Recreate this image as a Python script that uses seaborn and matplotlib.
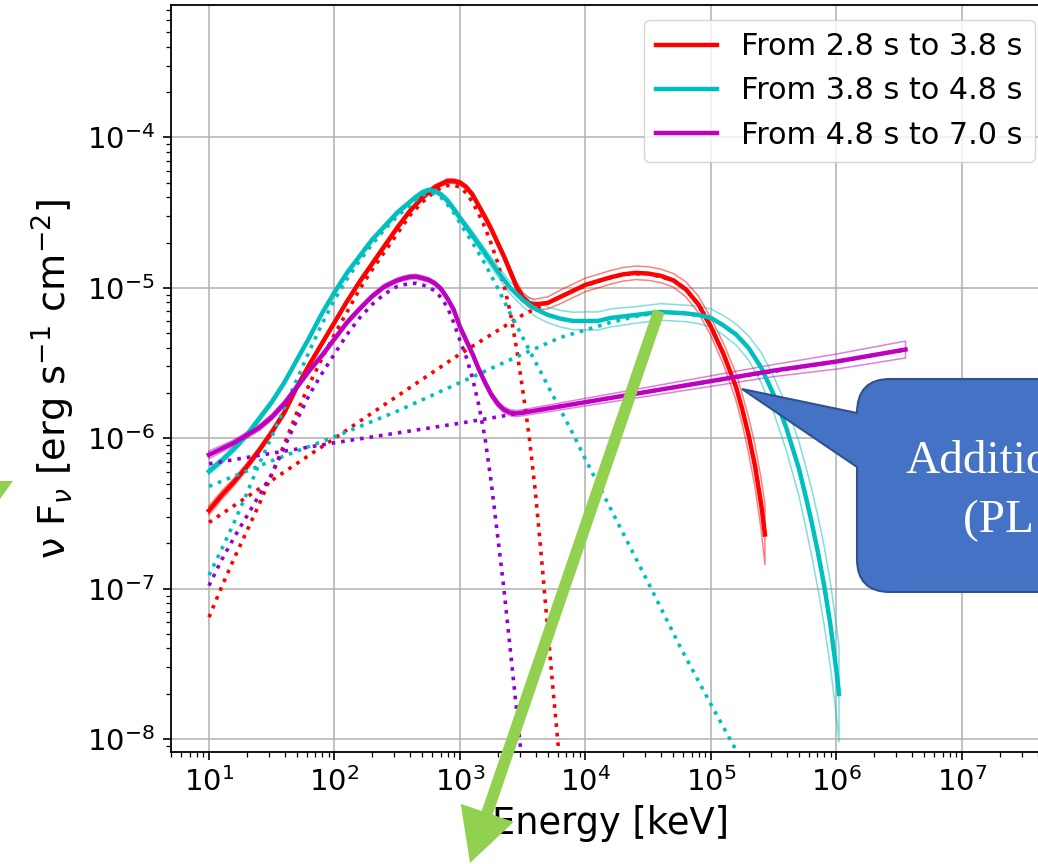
import numpy as np
import seaborn as sns
import matplotlib.pyplot as plt
from matplotlib.path import Path
from matplotlib.patches import PathPatch, Polygon

# values: log10(E / keV) and log10(nuFnu / erg s^-1 cm^-2)
labels = ['From 2.8 s to 3.8 s', 'From 3.8 s to 4.8 s', 'From 4.8 s to 7.0 s']
colors = ['r', 'c', 'm']
dot_colors = ['r', 'c', 'darkviolet']

# first interval: total model, its band half-width (dex) and the two components
red_logE = [1.0, 1.1, 1.2, 1.3, 1.4, 1.5, 1.6, 1.7, 1.8, 1.9, 2.0, 2.1, 2.2, 2.3, 2.4,
            2.5, 2.6, 2.7, 2.8, 2.85, 2.9, 2.95, 3.0, 3.05, 3.1, 3.15, 3.2, 3.25, 3.3,
            3.35, 3.4, 3.45, 3.5, 3.55, 3.6, 3.7, 3.8, 3.9, 4.0, 4.1, 4.2, 4.3, 4.4,
            4.5, 4.6, 4.7, 4.8, 4.9, 5.0, 5.1, 5.2, 5.25, 5.3, 5.35, 5.4, 5.43]
red_logF = [-6.48, -6.38, -6.29, -6.19, -6.08, -5.96, -5.83, -5.66, -5.51, -5.37, -5.23,
            -5.09, -4.96, -4.84, -4.72, -4.60, -4.49, -4.40, -4.33, -4.31, -4.29, -4.29,
            -4.30, -4.33, -4.38, -4.455, -4.53, -4.61, -4.70, -4.79, -4.89, -4.99, -5.06,
            -5.10, -5.11, -5.10, -5.06, -5.02, -4.98, -4.955, -4.93, -4.91, -4.90,
            -4.905, -4.92, -4.95, -5.01, -5.11, -5.26, -5.44, -5.66, -5.81, -5.98,
            -6.18, -6.44, -6.64]
red_err = [0.03, 0.028, 0.025, 0.022, 0.02, 0.02, 0.02, 0.018, 0.015, 0.015, 0.015,
           0.015, 0.015, 0.015, 0.015, 0.015, 0.015, 0.015, 0.015, 0.015, 0.015, 0.015,
           0.015, 0.015, 0.015, 0.015, 0.02, 0.02, 0.02, 0.022, 0.025, 0.028, 0.03,
           0.032, 0.035, 0.04, 0.045, 0.045, 0.045, 0.045, 0.045, 0.045, 0.045, 0.045,
           0.045, 0.045, 0.05, 0.055, 0.06, 0.07, 0.09, 0.1, 0.12, 0.14, 0.17, 0.2]
red_peak_logE = [1.0, 1.1, 1.2, 1.3, 1.4, 1.5, 1.6, 1.7, 1.8, 1.9, 2.0, 2.1, 2.2, 2.3,
                 2.4, 2.5, 2.6, 2.7, 2.8, 2.85, 2.9, 2.95, 3.0, 3.05, 3.1, 3.15, 3.2,
                 3.25, 3.3, 3.35, 3.4, 3.45, 3.5, 3.55, 3.6, 3.65, 3.7, 3.75, 3.8, 3.85]
red_peak_logF = [-7.19, -6.99, -6.80, -6.62, -6.44, -6.24, -6.04, -5.83, -5.64, -5.47,
                 -5.31, -5.16, -5.01, -4.88, -4.76, -4.64, -4.52, -4.43, -4.36, -4.335,
                 -4.32, -4.318, -4.33, -4.37, -4.43, -4.51, -4.60, -4.71, -4.83, -4.98,
                 -5.16, -5.40, -5.68, -5.98, -6.35, -6.80, -7.28, -7.75, -8.20, -8.65]
red_add_logE = [1.0, 1.5, 2.0, 2.5, 3.0, 3.5, 3.7, 3.9, 4.1, 4.3, 4.5, 4.7, 4.8, 4.9,
                5.0, 5.1, 5.2, 5.25, 5.3, 5.35, 5.4, 5.43]
red_add_logF = [-6.56, -6.28, -6.00, -5.72, -5.44, -5.18, -5.10, -5.02, -4.955, -4.91,
                -4.905, -4.95, -5.01, -5.11, -5.26, -5.44, -5.66, -5.81, -5.98, -6.18,
                -6.44, -6.64]

# second interval
cyan_logE = [1.0, 1.1, 1.2, 1.3, 1.4, 1.5, 1.6, 1.7, 1.8, 1.9, 2.0, 2.1, 2.2, 2.3, 2.4,
             2.5, 2.6, 2.65, 2.7, 2.75, 2.8, 2.85, 2.9, 2.95, 3.0, 3.1, 3.2, 3.3, 3.4,
             3.5, 3.6, 3.7, 3.8, 3.9, 4.0, 4.1, 4.2, 4.3, 4.4, 4.5, 4.6, 4.7, 4.8, 4.9,
             5.0, 5.1, 5.2, 5.3, 5.4, 5.5, 5.6, 5.7, 5.75, 5.8, 5.85, 5.9, 5.95, 6.0,
             6.02]
cyan_logF = [-6.22, -6.15, -6.07, -5.98, -5.87, -5.76, -5.63, -5.48, -5.33, -5.17, -5.03,
             -4.90, -4.79, -4.68, -4.59, -4.50, -4.43, -4.395, -4.365, -4.35, -4.355,
             -4.38, -4.42, -4.475, -4.535, -4.65, -4.77, -4.89, -5.00, -5.08, -5.14,
             -5.18, -5.205, -5.22, -5.22, -5.22, -5.20, -5.19, -5.18, -5.17, -5.16,
             -5.165, -5.17, -5.18, -5.20, -5.25, -5.31, -5.40, -5.53, -5.71, -5.93,
             -6.20, -6.37, -6.55, -6.75, -6.97, -7.23, -7.55, -7.70]
cyan_err = [0.02, 0.02, 0.02, 0.02, 0.02, 0.018, 0.015, 0.015, 0.015, 0.015, 0.015,
            0.015, 0.015, 0.015, 0.015, 0.015, 0.015, 0.015, 0.015, 0.015, 0.015, 0.015,
            0.02, 0.02, 0.02, 0.025, 0.03, 0.035, 0.04, 0.045, 0.05, 0.052, 0.055,
            0.058, 0.06, 0.06, 0.06, 0.058, 0.055, 0.055, 0.055, 0.055, 0.055, 0.058,
            0.06, 0.065, 0.07, 0.08, 0.1, 0.12, 0.15, 0.18, 0.2, 0.22, 0.24, 0.26,
            0.28, 0.3, 0.32]
cyan_peak_logE = [1.0, 1.1, 1.2, 1.3, 1.4, 1.5, 1.6, 1.7, 1.8, 1.9, 2.0, 2.1, 2.2, 2.3,
                  2.4, 2.5, 2.6, 2.65, 2.7, 2.75, 2.8, 2.85, 2.9, 2.95, 3.0, 3.1, 3.2,
                  3.3, 3.4, 3.5, 3.6, 3.7, 3.8, 3.9, 4.0, 4.25, 4.5, 4.75, 5.0, 5.25]
cyan_peak_logF = [-6.91, -6.74, -6.56, -6.37, -6.17, -5.99, -5.80, -5.61, -5.42, -5.24,
                  -5.08, -4.94, -4.82, -4.71, -4.61, -4.525, -4.45, -4.415, -4.385,
                  -4.37, -4.375, -4.40, -4.445, -4.50, -4.57, -4.70, -4.84, -5.00,
                  -5.17, -5.33, -5.49, -5.65, -5.81, -5.97, -6.14, -6.55, -6.96, -7.38,
                  -7.77, -8.15]
cyan_add_logE = [1.0, 1.5, 2.0, 2.5, 3.0, 3.5, 3.8, 4.0, 4.2, 4.4, 4.6, 4.8, 5.0, 5.1,
                 5.2, 5.3, 5.4, 5.5, 5.6, 5.7, 5.75, 5.8, 5.85, 5.9, 5.95, 6.0, 6.02]
cyan_add_logF = [-6.32, -6.15, -5.99, -5.82, -5.63, -5.44, -5.33, -5.28, -5.23, -5.19,
                 -5.16, -5.17, -5.20, -5.25, -5.31, -5.40, -5.53, -5.71, -5.93, -6.20,
                 -6.37, -6.55, -6.75, -6.97, -7.23, -7.55, -7.70]

# third interval
purple_logE = [1.0, 1.1, 1.2, 1.3, 1.4, 1.5, 1.6, 1.7, 1.8, 1.9, 2.0, 2.1, 2.2, 2.3,
               2.4, 2.5, 2.55, 2.6, 2.65, 2.7, 2.75, 2.8, 2.85, 2.9, 2.95, 3.0, 3.05,
               3.1, 3.15, 3.2, 3.25, 3.3, 3.35, 3.4, 3.45, 3.5, 4.0, 4.5, 5.0, 5.5, 6.0,
               6.55]
purple_logF = [-6.11, -6.07, -6.03, -5.98, -5.93, -5.86, -5.77, -5.66, -5.55, -5.45,
               -5.34, -5.23, -5.14, -5.056, -4.99, -4.95, -4.937, -4.927, -4.925, -4.935,
               -4.947, -4.97, -5.008, -5.07, -5.145, -5.26, -5.35, -5.44, -5.54, -5.63,
               -5.71, -5.77, -5.81, -5.83, -5.835, -5.83, -5.76, -5.69, -5.62, -5.55,
               -5.49, -5.41]
purple_err = [0.025, 0.022, 0.02, 0.02, 0.02, 0.02, 0.02, 0.018, 0.015, 0.015, 0.015,
              0.015, 0.015, 0.015, 0.015, 0.015, 0.015, 0.015, 0.015, 0.015, 0.015,
              0.015, 0.015, 0.015, 0.015, 0.02, 0.02, 0.02, 0.02, 0.02, 0.02, 0.02,
              0.02, 0.02, 0.02, 0.02, 0.025, 0.03, 0.035, 0.04, 0.05, 0.056]
purple_peak_logE = [1.0, 1.1, 1.2, 1.3, 1.4, 1.5, 1.6, 1.7, 1.8, 1.9, 2.0, 2.1, 2.2,
                    2.3, 2.4, 2.5, 2.55, 2.6, 2.65, 2.7, 2.75, 2.8, 2.85, 2.9, 2.95,
                    3.0, 3.05, 3.1, 3.15, 3.2, 3.25, 3.3, 3.35, 3.4, 3.45, 3.5]
purple_peak_logF = [-6.98, -6.81, -6.66, -6.52, -6.38, -6.24, -6.06, -5.88, -5.71,
                    -5.57, -5.44, -5.31, -5.20, -5.11, -5.04, -4.99, -4.98, -4.97,
                    -4.97, -4.98, -4.995, -5.02, -5.065, -5.13, -5.23, -5.35, -5.46,
                    -5.60, -5.78, -6.00, -6.30, -6.65, -7.00, -7.40, -7.80, -8.20]
purple_add_logE = [1.0, 2.0, 3.0, 4.0, 5.0, 6.0, 6.55]
purple_add_logF = [-6.17, -6.03, -5.90, -5.76, -5.62, -5.49, -5.41]

totals = [(red_logE, red_logF, red_err), (cyan_logE, cyan_logF, cyan_err),
          (purple_logE, purple_logF, purple_err)]
components = [[(red_peak_logE, red_peak_logF), (red_add_logE, red_add_logF)],
              [(cyan_peak_logE, cyan_peak_logF), (cyan_add_logE, cyan_add_logF)],
              [(purple_peak_logE, purple_peak_logF), (purple_add_logE, purple_add_logF)]]

W, H = 1038, 864
plt.rcParams.update({
    'font.size': 21,
    'axes.linewidth': 1.3,
    'xtick.major.size': 5.8, 'ytick.major.size': 5.8,
    'xtick.minor.size': 3.4, 'ytick.minor.size': 3.4,
    'xtick.major.width': 1.2, 'ytick.major.width': 1.2,
    'xtick.minor.width': 0.9, 'ytick.minor.width': 0.9,
    'xtick.major.pad': 5, 'ytick.major.pad': 6,
})

fig = plt.figure(figsize=(W / 100, H / 100), dpi=100)
ax = fig.add_axes([171.2 / W, 1 - 752 / H, 878.5 / W, 747 / H])
ax.set_xscale('log')
ax.set_yscale('log')

for (lx, ly, err), comps, c, dc, lab in zip(totals, components, colors, dot_colors, labels):
    x = 10 ** np.array(lx)
    y = 10 ** np.array(ly)
    s = 10 ** np.array(err)
    for cx, cy in comps:
        sns.lineplot(x=10 ** np.array(cx), y=10 ** np.array(cy), color=dc, lw=2.6,
                     linestyle=':', sort=False, estimator=None, legend=False, ax=ax)
    ax.fill_between(x, y / s, y * s, facecolor='none', edgecolor=c, alpha=0.5, lw=1.1)
    sns.lineplot(x=x, y=y, color=c, lw=3.2, sort=False, estimator=None, label=lab, ax=ax)

ax.set_xlim(5, 5e7)
ax.set_ylim(8.2e-9, 7.6e-4)
ax.grid(True, which='major', color='#b0b0b0', lw=1.1)
ax.set_axisbelow(True)
ax.set_xlabel('Energy [keV]', fontsize=26.5, labelpad=6)
ax.set_ylabel('ν F$_\\nu$ [erg s$^{-1}$ cm$^{-2}$]', fontsize=27.5, labelpad=7)
ax.legend(loc='upper right', fontsize=21.8, handlelength=2.0)


# slide overlays, drawn in pixel coordinates of the picture (y downwards)
def fpt(x, y):
    return (x / W, 1 - y / H)


green = '#92d050'
tail = np.array([659.0, 311.0])
tip = np.array([470.0, 863.0])
d = (tip - tail) / np.linalg.norm(tip - tail)
n = np.array([-d[1], d[0]])
base = tip - 53 * d
arrow_pts = [tail + 5.8 * n, base + 5.8 * n, base + 28 * n, tip,
             base - 28 * n, base - 5.8 * n, tail - 5.8 * n]
fig.add_artist(Polygon([fpt(*p) for p in arrow_pts], closed=True, facecolor=green,
                       edgecolor='none', transform=fig.transFigure, zorder=10))
fig.add_artist(Polygon([fpt(0, 481), fpt(13, 481), fpt(0, 499)], closed=True,
                       facecolor=green, edgecolor='none', transform=fig.transFigure,
                       zorder=10))

r = 33
verts = [(857 + r, 379), (1120, 379), (1120, 592), (857 + r, 592), (857, 592),
         (857, 592 - r), (857, 467), (742, 389), (857, 413), (857, 379), (857 + r, 379),
         (857 + r, 379)]
codes = [Path.MOVETO, Path.LINETO, Path.LINETO, Path.LINETO, Path.CURVE3, Path.CURVE3,
         Path.LINETO, Path.LINETO, Path.LINETO, Path.CURVE3, Path.CURVE3, Path.CLOSEPOLY]
callout = Path([fpt(*v) for v in verts], codes)
fig.add_artist(PathPatch(callout, facecolor='#4472c4', edgecolor='#2f528f', lw=1.5,
                         transform=fig.transFigure, zorder=11))
fig.text(*fpt(906, 473), 'Additional', color='white', fontsize=34,
         family='Liberation Serif', ha='left', va='baseline', zorder=12)
fig.text(*fpt(963, 532), '(PL with cutoff)', color='white', fontsize=34,
         family='Liberation Serif', ha='left', va='baseline', zorder=12)

fig.savefig('out.png', dpi=100)
